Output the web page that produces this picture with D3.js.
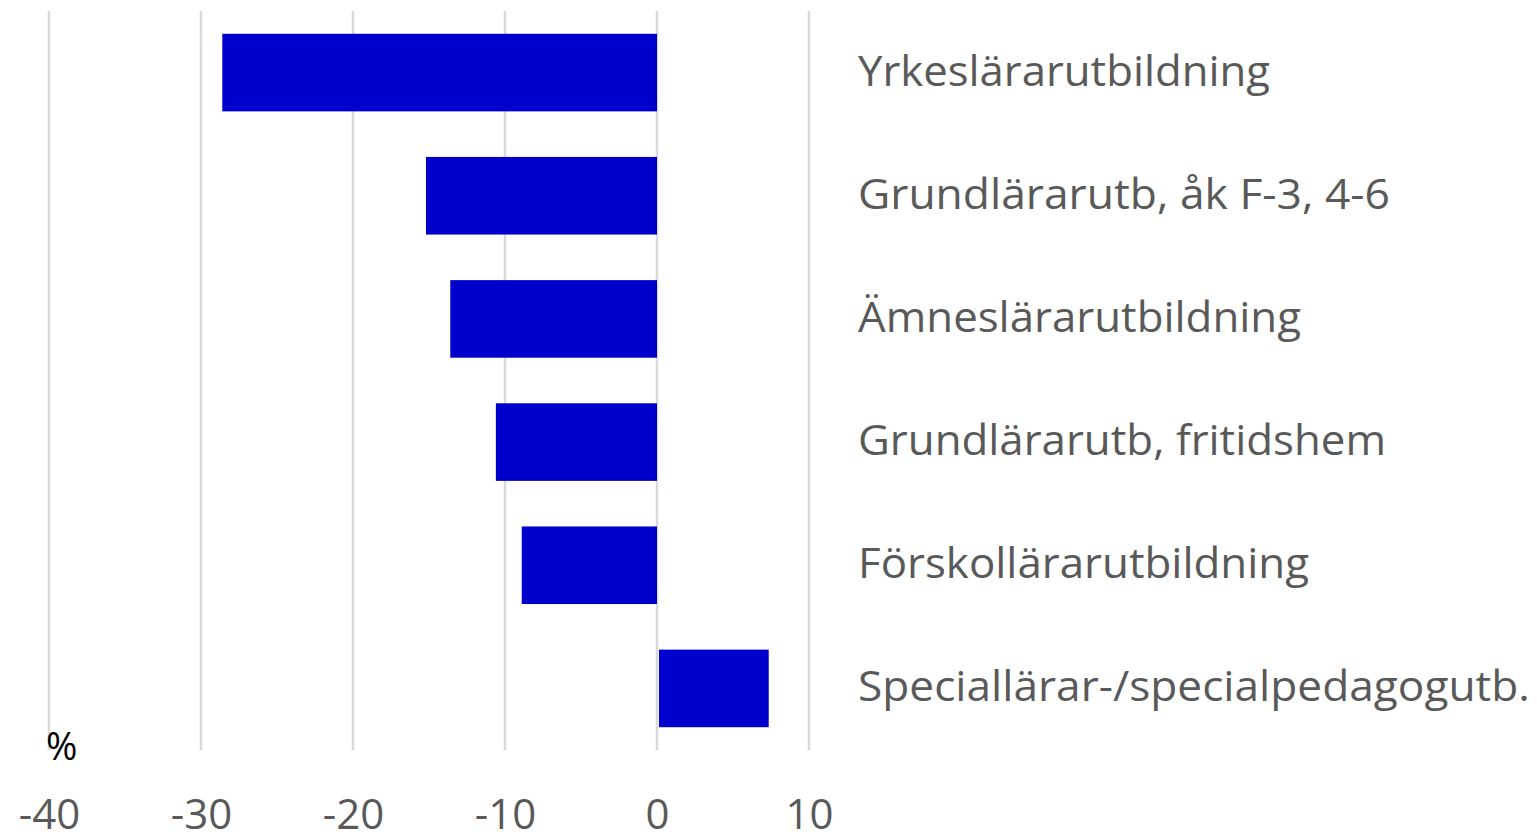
<!DOCTYPE html>
<html>
<head>
<meta charset="utf-8">
<script src="https://cdn.jsdelivr.net/npm/d3@7"></script>
<style>
  html, body { margin: 0; padding: 0; background: #fff; }
  svg { display: block; }
</style>
</head>
<body>
<svg id="chart" width="1537" height="835"></svg>
<script>
// Change in applicants per teacher programme, percent
const categories = [
  "Yrkeslärarutbildning",
  "Grundlärarutb, åk F-3, 4-6",
  "Ämneslärarutbildning",
  "Grundlärarutb, fritidshem",
  "Förskollärarutbildning",
  "Speciallärar-/specialpedagogutb."
];
const values = [-28.6, -15.2, -13.6, -10.6, -8.9, 7.35];
const xTicks = [-40, -30, -20, -10, 0, 10];
const unitLabel = "%";

const svg = d3.select("#chart");
const fontFamily = "'Open Sans', 'Noto Sans', sans-serif";

const x = d3.scaleLinear().domain([-40, 10]).range([49, 809]);
const y = d3.scaleBand().domain(categories).range([11, 750]).paddingInner(0.37).paddingOuter(0.185);

// vertical gridlines
svg.append("g")
  .selectAll("line")
  .data(xTicks)
  .join("line")
  .attr("x1", d => x(d)).attr("x2", d => x(d))
  .attr("y1", 11).attr("y2", 750)
  .attr("stroke", "#d9d9d9")
  .attr("stroke-width", 2.5);

// bars
svg.append("g")
  .selectAll("rect")
  .data(values)
  .join("rect")
  .attr("x", d => x(Math.min(0, d)) + (d > 0 ? 2 : 0))
  .attr("width", d => Math.abs(x(d) - x(0)) - (d > 0 ? 2 : 0))
  .attr("y", (d, i) => y(categories[i]))
  .attr("height", y.bandwidth())
  .attr("fill", "#0000cc");

// x axis tick labels (plain hyphen for negatives)
const xAxis = d3.axisBottom(x).tickValues(xTicks).tickFormat(d => String(d)).tickSize(0).tickPadding(0);
const gx = svg.append("g").attr("transform", "translate(0,800)").call(xAxis);
gx.select(".domain").remove();
gx.selectAll("text")
  .attr("dy", "0")
  .attr("y", 29)
  .attr("font-family", fontFamily)
  .attr("font-size", 42)
  .attr("fill", "#595959");

// category labels to the right of the plot
const labelWidths = [412, 532, 443, 528, 451, 672];
svg.append("g")
  .selectAll("text")
  .data(categories)
  .join("text")
  .attr("x", 858)
  .attr("y", d => y(d) + y.bandwidth() / 2 + 13)
  .attr("font-family", fontFamily)
  .attr("font-size", 42)
  .attr("fill", "#595959")
  .attr("textLength", (d, i) => labelWidths[i])
  .attr("lengthAdjust", "spacingAndGlyphs")
  .text(d => d);

// unit label
svg.append("text")
  .attr("x", 46)
  .attr("y", 760)
  .attr("font-family", fontFamily)
  .attr("font-size", 38)
  .attr("fill", "#000")
  .text(unitLabel);
</script>
</body>
</html>
